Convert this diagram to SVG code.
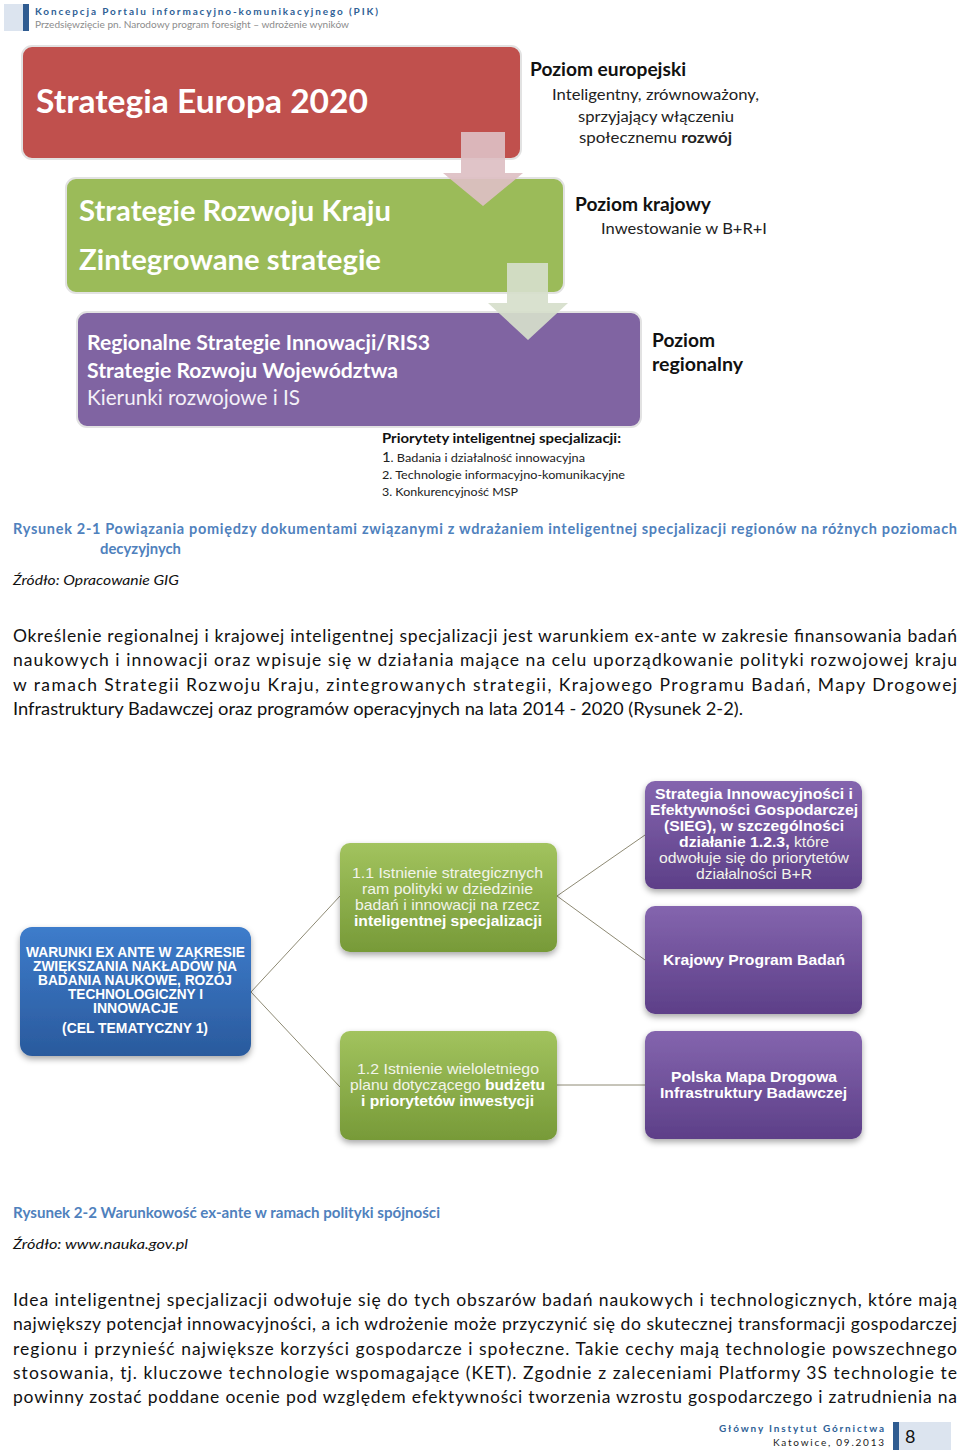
<svg xmlns="http://www.w3.org/2000/svg" width="960" height="1456" viewBox="0 0 960 1456">
<style>
.cal{font-family:Lato,"Liberation Sans",sans-serif}
.ari{font-family:"Liberation Sans",Arial,sans-serif}
.hdr{fill:#2F5F96;font-weight:bold;font-size:10px}
.sub{fill:#8C8C8C;font-size:10px}
.big{fill:#FFFFFF;font-weight:bold}
.lvl{fill:#111;font-weight:bold;font-size:18px}
.lvd{fill:#222;font-size:16px}
.cap{fill:#4F81BD;font-weight:bold;font-size:14.5px}
.src{fill:#111;font-style:italic;font-size:14px}
.par{fill:#111;font-size:17.5px}
.wl{fill:#F2F4EA;font-size:15px}
.wb{fill:#FFFFFF;font-size:15px;font-weight:bold}
.bl{fill:#FFFFFF;font-size:14px;font-weight:bold}
.conn{stroke:#8E8A74;stroke-width:1;fill:none}
</style>
<defs>
<linearGradient id="gGreen" x1="0" y1="0" x2="0" y2="1">
<stop offset="0" stop-color="#A2C35E"/><stop offset="1" stop-color="#779A38"/>
</linearGradient>
<linearGradient id="gPurple" x1="0" y1="0" x2="0" y2="1">
<stop offset="0" stop-color="#8465AE"/><stop offset="1" stop-color="#5D3F88"/>
</linearGradient>
<linearGradient id="gBlue" x1="0" y1="0" x2="0" y2="1">
<stop offset="0" stop-color="#3D7CCB"/><stop offset="1" stop-color="#2A5A9D"/>
</linearGradient>
<filter id="sh" x="-10%" y="-10%" width="130%" height="140%">
<feDropShadow dx="0" dy="3" stdDeviation="3" flood-color="#000" flood-opacity="0.35"/>
</filter>
</defs>

<g id="header">
<rect x="4" y="4" width="20" height="27" fill="#DCE4EF"/>
<rect x="23" y="4" width="6" height="27" fill="#2F5C91"/>
<text class="cal hdr" x="35" y="15" textLength="343" lengthAdjust="spacing">Koncepcja Portalu informacyjno-komunikacyjnego (PIK)</text>
<text class="cal sub" x="35" y="28" textLength="314" lengthAdjust="spacingAndGlyphs">Przedsięwzięcie pn. Narodowy program foresight – wdrożenie wyników</text>
</g>

<!-- Figure 2-1 -->
<g id="box-europa">
<rect x="22" y="46" width="499" height="113" rx="10" fill="#C0504D" stroke="#E2E2E2" stroke-width="2"/>
<text class="cal big" x="36" y="113" font-size="33" textLength="332" lengthAdjust="spacingAndGlyphs">Strategia Europa 2020</text>
</g>
<g id="box-kraj">
<rect x="66" y="178" width="498" height="115" rx="10" fill="#9BBB59" stroke="#E2E2E2" stroke-width="2"/>
<text class="cal big" x="79" y="221" font-size="28" textLength="312" lengthAdjust="spacingAndGlyphs">Strategie Rozwoju Kraju</text>
<text class="cal big" x="79" y="270" font-size="28" textLength="302" lengthAdjust="spacingAndGlyphs">Zintegrowane strategie</text>
</g>
<g id="box-region">
<rect x="77" y="312" width="564" height="115" rx="10" fill="#8064A2" stroke="#E2E2E2" stroke-width="2"/>
<text class="cal big" x="87" y="350" font-size="21" textLength="343" lengthAdjust="spacingAndGlyphs">Regionalne Strategie Innowacji/RIS3</text>
<text class="cal big" x="87" y="378" font-size="21" textLength="311" lengthAdjust="spacingAndGlyphs">Strategie Rozwoju Województwa</text>
<text class="cal" x="87" y="405" font-size="21" fill="#F4F0F8" textLength="213" lengthAdjust="spacingAndGlyphs">Kierunki rozwojowe i IS</text>
</g>
<g id="arrows-top">
<path d="M461,132 H505 V173 H523 L483,206 L443,173 H461 Z" fill="#DDBFC3" fill-opacity="0.92"/>
<path d="M507,263 H548 V303 H568 L528,340 L488,303 H507 Z" fill="#D6DECB" fill-opacity="0.92"/>
</g>
<g id="lbl-europ">
<text class="cal lvl" x="530" y="76" textLength="156" lengthAdjust="spacingAndGlyphs">Poziom europejski</text>
<text class="cal lvd" x="552" y="100" textLength="207" lengthAdjust="spacingAndGlyphs">Inteligentny, zrównoważony,</text>
<text class="cal lvd" x="578" y="122" textLength="156" lengthAdjust="spacingAndGlyphs">sprzyjający włączeniu</text>
<text class="cal lvd" x="579" y="143" textLength="153" lengthAdjust="spacingAndGlyphs">społecznemu <tspan font-weight="bold">rozwój</tspan></text>
</g>
<g id="lbl-kraj">
<text class="cal lvl" x="575" y="211" textLength="136" lengthAdjust="spacingAndGlyphs">Poziom krajowy</text>
<text class="cal lvd" x="601" y="234" textLength="166" lengthAdjust="spacingAndGlyphs">Inwestowanie w B+R+I</text>
</g>
<g id="lbl-region">
<text class="cal lvl" x="652" y="347" textLength="63" lengthAdjust="spacingAndGlyphs">Poziom</text>
<text class="cal lvl" x="652" y="371" textLength="91" lengthAdjust="spacingAndGlyphs">regionalny</text>
</g>
<g id="lbl-priorytety">
<text class="cal" x="382" y="443" font-size="14" font-weight="bold" fill="#111" textLength="239" lengthAdjust="spacingAndGlyphs">Priorytety inteligentnej specjalizacji:</text>
<text class="cal" x="382" y="462" font-size="12" fill="#222" textLength="203" lengthAdjust="spacingAndGlyphs"><tspan font-size="14">1</tspan>. Badania i działalność innowacyjna</text>
<text class="cal" x="382" y="479" font-size="12" fill="#222" textLength="243" lengthAdjust="spacingAndGlyphs">2. Technologie informacyjno-komunikacyjne</text>
<text class="cal" x="382" y="496" font-size="12" fill="#222" textLength="136" lengthAdjust="spacingAndGlyphs">3. Konkurencyjność MSP</text>
</g>

<g id="caption-1">
<text class="cal cap" x="13" y="534" textLength="944" lengthAdjust="spacing">Rysunek 2-1 Powiązania pomiędzy dokumentami związanymi z wdrażaniem inteligentnej specjalizacji regionów na różnych poziomach</text>
<text class="cal cap" x="100" y="554" textLength="81" lengthAdjust="spacingAndGlyphs">decyzyjnych</text>
<text class="cal src" x="13" y="585" textLength="166" lengthAdjust="spacingAndGlyphs">Źródło: Opracowanie GIG</text>
</g>

<g id="paragraph-1">
<text class="cal par" x="13" y="642" textLength="944" lengthAdjust="spacing">Określenie regionalnej i krajowej inteligentnej specjalizacji jest warunkiem ex-ante w zakresie finansowania badań</text>
<text class="cal par" x="13" y="666" textLength="944" lengthAdjust="spacing">naukowych i innowacji oraz wpisuje się w działania mające na celu uporządkowanie polityki rozwojowej kraju</text>
<text class="cal par" x="13" y="691" textLength="944" lengthAdjust="spacing">w ramach Strategii Rozwoju Kraju, zintegrowanych strategii, Krajowego Programu Badań, Mapy Drogowej</text>
<text class="cal par" x="13" y="715" textLength="730" lengthAdjust="spacingAndGlyphs">Infrastruktury Badawczej oraz programów operacyjnych na lata 2014 - 2020 (Rysunek 2-2).</text>
</g>

<!-- Figure 2-2 -->
<g id="connectors">
<line class="conn" x1="251" y1="992" x2="340" y2="896"/>
<line class="conn" x1="251" y1="992" x2="340" y2="1087"/>
<line class="conn" x1="557" y1="896" x2="645" y2="835"/>
<line class="conn" x1="557" y1="896" x2="645" y2="960"/>
<line class="conn" x1="557" y1="1085" x2="645" y2="1085"/>
</g>
<g id="node-warunki">
<rect x="20" y="927" width="231" height="129" rx="12" fill="url(#gBlue)" filter="url(#sh)"/>
<text class="ari bl" x="135.5" y="957" text-anchor="middle" textLength="219" lengthAdjust="spacingAndGlyphs">WARUNKI EX ANTE W ZAKRESIE</text>
<text class="ari bl" x="135" y="971" text-anchor="middle" textLength="204" lengthAdjust="spacingAndGlyphs">ZWIĘKSZANIA NAKŁADÓW NA</text>
<text class="ari bl" x="135" y="985" text-anchor="middle" textLength="194" lengthAdjust="spacingAndGlyphs">BADANIA NAUKOWE, ROZÓJ</text>
<text class="ari bl" x="135.5" y="999" text-anchor="middle" textLength="135" lengthAdjust="spacingAndGlyphs">TECHNOLOGICZNY I</text>
<text class="ari bl" x="135.5" y="1013" text-anchor="middle" textLength="85" lengthAdjust="spacingAndGlyphs">INNOWACJE</text>
<text class="ari bl" x="135" y="1033" text-anchor="middle" textLength="146" lengthAdjust="spacingAndGlyphs">(CEL TEMATYCZNY 1)</text>
</g>
<g id="node-1-1">
<rect x="340" y="843" width="217" height="109" rx="10" fill="url(#gGreen)" filter="url(#sh)"/>
<text class="ari wl" x="447.5" y="878" text-anchor="middle" textLength="191" lengthAdjust="spacingAndGlyphs">1.1 Istnienie strategicznych</text>
<text class="ari wl" x="447.5" y="894" text-anchor="middle" textLength="171" lengthAdjust="spacingAndGlyphs">ram polityki w dziedzinie</text>
<text class="ari wl" x="447.5" y="910" text-anchor="middle" textLength="185" lengthAdjust="spacingAndGlyphs">badań i innowacji na rzecz</text>
<text class="ari wb" x="448" y="926" text-anchor="middle" textLength="188" lengthAdjust="spacingAndGlyphs">inteligentnej specjalizacji</text>
</g>
<g id="node-1-2">
<rect x="340" y="1031" width="217" height="109" rx="10" fill="url(#gGreen)" filter="url(#sh)"/>
<text class="ari wl" x="448" y="1074" text-anchor="middle" textLength="182" lengthAdjust="spacingAndGlyphs">1.2 Istnienie wieloletniego</text>
<text class="ari wl" x="447.5" y="1090" text-anchor="middle" textLength="195" lengthAdjust="spacingAndGlyphs">planu dotyczącego <tspan class="wb">budżetu</tspan></text>
<text class="ari wb" x="447.5" y="1106" text-anchor="middle" textLength="173" lengthAdjust="spacingAndGlyphs">i priorytetów inwestycji</text>
</g>
<g id="node-sieg">
<rect x="645" y="781" width="217" height="108" rx="10" fill="url(#gPurple)" filter="url(#sh)"/>
<text class="ari wb" x="754" y="799" text-anchor="middle" textLength="198" lengthAdjust="spacingAndGlyphs">Strategia Innowacyjności i</text>
<text class="ari wb" x="754" y="815" text-anchor="middle" textLength="208" lengthAdjust="spacingAndGlyphs">Efektywności Gospodarczej</text>
<text class="ari wb" x="754" y="831" text-anchor="middle" textLength="180" lengthAdjust="spacingAndGlyphs">(SIEG), w szczególności</text>
<text class="ari wl" x="754" y="847" text-anchor="middle" textLength="150" lengthAdjust="spacingAndGlyphs"><tspan class="wb">działanie 1.2.3,</tspan> które</text>
<text class="ari wl" x="754" y="863" text-anchor="middle" textLength="190" lengthAdjust="spacingAndGlyphs">odwołuje się do priorytetów</text>
<text class="ari wl" x="754" y="879" text-anchor="middle" textLength="116" lengthAdjust="spacingAndGlyphs">działalności B+R</text>
</g>
<g id="node-kpb">
<rect x="645" y="906" width="217" height="108" rx="10" fill="url(#gPurple)" filter="url(#sh)"/>
<text class="ari wb" x="754" y="965" text-anchor="middle" textLength="182" lengthAdjust="spacingAndGlyphs">Krajowy Program Badań</text>
</g>
<g id="node-mapa">
<rect x="645" y="1031" width="217" height="108" rx="10" fill="url(#gPurple)" filter="url(#sh)"/>
<text class="ari wb" x="754" y="1082" text-anchor="middle" textLength="166" lengthAdjust="spacingAndGlyphs">Polska Mapa Drogowa</text>
<text class="ari wb" x="753.5" y="1098" text-anchor="middle" textLength="187" lengthAdjust="spacingAndGlyphs">Infrastruktury Badawczej</text>
</g>

<g id="caption-2">
<text class="cal cap" x="13" y="1218" textLength="427" lengthAdjust="spacingAndGlyphs">Rysunek 2-2 Warunkowość ex-ante w ramach polityki spójności</text>
<text class="cal src" x="13" y="1249" textLength="175" lengthAdjust="spacingAndGlyphs">Źródło: www.nauka.gov.pl</text>
</g>

<g id="paragraph-2">
<text class="cal par" x="13" y="1306" textLength="944" lengthAdjust="spacing">Idea inteligentnej specjalizacji odwołuje się do tych obszarów badań naukowych i technologicznych, które mają</text>
<text class="cal par" x="13" y="1330" textLength="944" lengthAdjust="spacing">największy potencjał innowacyjności, a ich wdrożenie może przyczynić się do skutecznej transformacji gospodarczej</text>
<text class="cal par" x="13" y="1355" textLength="944" lengthAdjust="spacing">regionu i przynieść największe korzyści gospodarcze i społeczne. Takie cechy mają technologie powszechnego</text>
<text class="cal par" x="13" y="1379" textLength="944" lengthAdjust="spacing">stosowania, tj. kluczowe technologie wspomagające (KET). Zgodnie z zaleceniami Platformy 3S technologie te</text>
<text class="cal par" x="13" y="1403" textLength="944" lengthAdjust="spacing">powinny zostać poddane ocenie pod względem efektywności tworzenia wzrostu gospodarczego i zatrudnienia na</text>
</g>

<g id="footer">
<text class="cal" x="884" y="1432" font-size="10" font-weight="bold" fill="#2F5F96" text-anchor="end" textLength="165" lengthAdjust="spacing">Główny Instytut Górnictwa</text>
<text class="cal" x="884" y="1446" font-size="10" fill="#222" text-anchor="end" textLength="111" lengthAdjust="spacing">Katowice, 09.2013</text>
<rect x="893" y="1422" width="6" height="28" fill="#2F5C91"/>
<rect x="899" y="1422" width="52" height="28" fill="#DCE4EF"/>
<text class="cal" x="905" y="1443" font-size="18" fill="#111">8</text>
</g>
</svg>
